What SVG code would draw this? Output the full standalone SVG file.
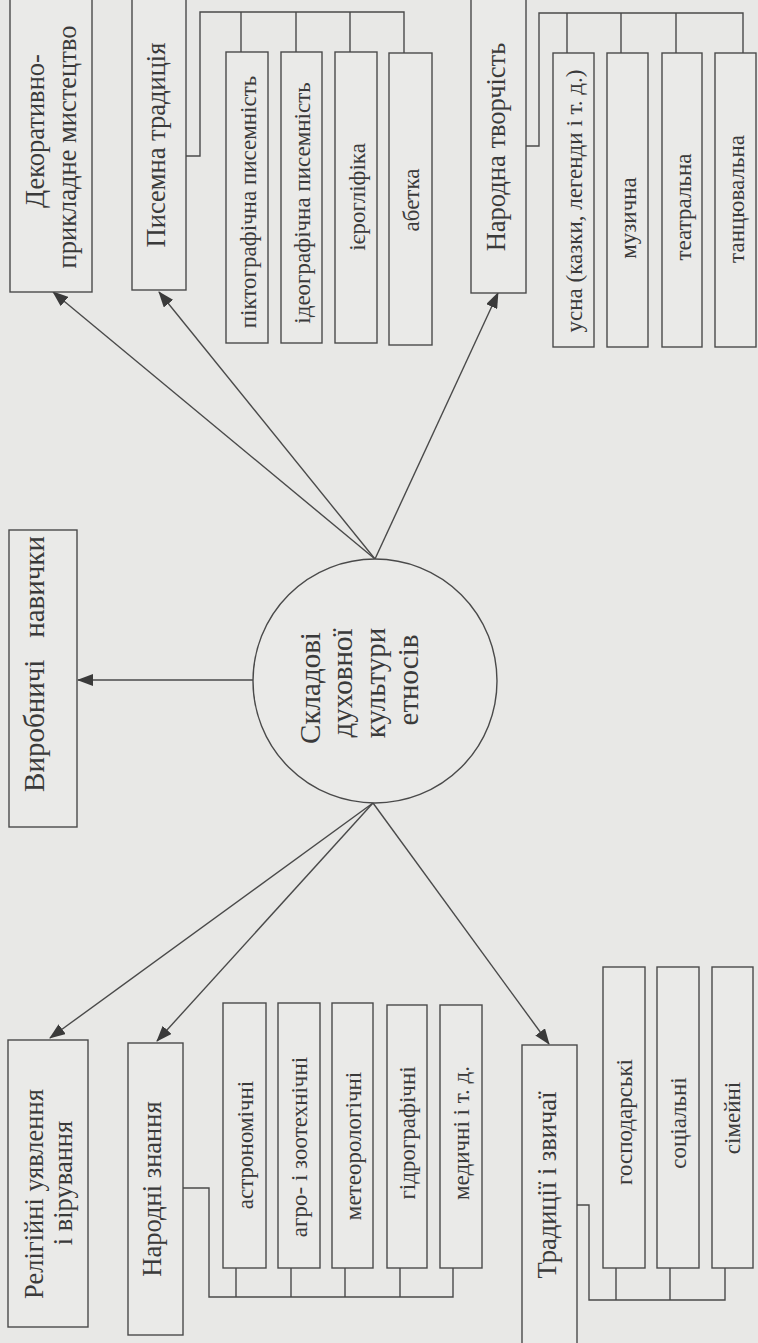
<svg xmlns="http://www.w3.org/2000/svg" width="758" height="1343" viewBox="0 0 758 1343">
<style>
.bx{fill:#eaeae8;stroke:#4a4a4a;stroke-width:1.4}
.ln{fill:none;stroke:#4a4a4a;stroke-width:1.4}
.ar{fill:none;stroke:#4a4a4a;stroke-width:1.4;marker-end:url(#ah)}
text{font-family:"Liberation Serif","Times New Roman",serif;fill:#3a3a3a;text-anchor:middle;dominant-baseline:central}
.m{font-size:26.5px}
.c{font-size:23px}
.k{font-size:29px}
</style>
<defs>
<marker id="ah" markerUnits="userSpaceOnUse" markerWidth="16" markerHeight="12" refX="15" refY="6" orient="auto">
<path d="M0,0 L16,6 L0,12 Z" fill="#3a3a3a"/>
</marker>
</defs>
<rect x="0" y="0" width="758" height="1343" fill="#e8e8e6"/>

<g id="connectors">
<line class="ar" x1="375" y1="559" x2="53" y2="292"/>
<line class="ar" x1="375" y1="559" x2="159" y2="292"/>
<line class="ar" x1="375" y1="559" x2="498" y2="293"/>
<line class="ar" x1="253" y1="680" x2="78" y2="680"/>
<line class="ar" x1="373" y1="803" x2="50" y2="1038"/>
<line class="ar" x1="373" y1="803" x2="157" y2="1041"/>
<line class="ar" x1="373" y1="803" x2="549" y2="1044"/>
<path class="ln" d="M186,156 H200 V12 H404 V53 M241,12 V52 M296,12 V52 M350,12 V52"/>
<path class="ln" d="M526,146 H539 V13 H743 V53 M567,13 V53 M621,13 V53 M676,13 V53"/>
<path class="ln" d="M183,1188 H209 V1297 H453 V1268 M236,1297 V1268 M291,1297 V1268 M345,1297 V1268 M400,1297 V1268"/>
<path class="ln" d="M577,1205 H589 V1300 H725 V1268 M616,1300 V1268 M670,1300 V1268"/>
</g>

<g id="center">
<circle cx="375" cy="681" r="122" fill="#eaeae8" stroke="#4a4a4a" stroke-width="1.4"/>
<text class="k" transform="translate(310,688) rotate(-90)">Складові</text>
<text class="k" transform="translate(342,683) rotate(-90)">духовної</text>
<text class="k" transform="translate(375,683) rotate(-90)">культури</text>
<text class="k" transform="translate(408,680) rotate(-90)">етносів</text>
</g>

<g id="dekor">
<rect class="bx" x="10" y="-2" width="82" height="294"/>
<text class="m" transform="translate(35,131) rotate(-90)">Декоративно-</text>
<text class="m" transform="translate(67,147) rotate(-90)">прикладне мистецтво</text>
</g>

<g id="pysemna">
<rect class="bx" x="132" y="-2" width="54" height="292"/>
<text class="m" transform="translate(156,145) rotate(-90)">Писемна традиція</text>
</g>
<g id="pykto"><rect class="bx" x="226" y="52" width="42" height="291"/><text class="c" transform="translate(248,202) rotate(-90)">піктографічна писемність</text></g>
<g id="ideo"><rect class="bx" x="281" y="52" width="41" height="291"/><text class="c" transform="translate(302,203) rotate(-90)">ідеографічна писемність</text></g>
<g id="iero"><rect class="bx" x="335" y="52" width="42" height="291"/><text class="c" transform="translate(357,197) rotate(-90)">ієрогліфіка</text></g>
<g id="abetka"><rect class="bx" x="389" y="53" width="43" height="292"/><text class="c" transform="translate(411,200) rotate(-90)">абетка</text></g>

<g id="narodna-tv">
<rect class="bx" x="471" y="-2" width="55" height="295"/>
<text class="m" transform="translate(496,147) rotate(-90)">Народна творчість</text>
</g>
<g id="usna"><rect class="bx" x="553" y="53" width="41" height="294"/><text class="c" transform="translate(574,201) rotate(-90)">усна (казки, легенди і т. д.)</text></g>
<g id="muz"><rect class="bx" x="607" y="53" width="41" height="294"/><text class="c" transform="translate(628,218) rotate(-90)">музична</text></g>
<g id="teatr"><rect class="bx" x="662" y="53" width="40" height="294"/><text class="c" transform="translate(683,207) rotate(-90)">театральна</text></g>
<g id="tanc"><rect class="bx" x="715" y="53" width="41" height="294"/><text class="c" transform="translate(736,199) rotate(-90)">танцювальна</text></g>

<g id="vyrob">
<rect class="bx" x="9" y="530" width="68" height="297"/>
<text class="m" style="font-size:29px" transform="translate(34,664) rotate(-90)" xml:space="preserve">Виробничі   навички</text>
</g>

<g id="relig">
<rect class="bx" x="8" y="1040" width="80" height="287"/>
<text class="m" transform="translate(34,1194) rotate(-90)">Релігійні уявлення</text>
<text class="m" transform="translate(63,1183) rotate(-90)">і вірування</text>
</g>

<g id="znannia">
<rect class="bx" x="128" y="1043" width="55" height="292"/>
<text class="m" transform="translate(152,1189) rotate(-90)">Народні знання</text>
</g>
<g id="astro"><rect class="bx" x="223" y="1003" width="43" height="265"/><text class="c" transform="translate(245,1145) rotate(-90)">астрономічні</text></g>
<g id="agro"><rect class="bx" x="278" y="1003" width="42" height="265"/><text class="c" transform="translate(299,1147) rotate(-90)">агро- і зоотехнічні</text></g>
<g id="meteo"><rect class="bx" x="332" y="1003" width="41" height="265"/><text class="c" transform="translate(353,1146) rotate(-90)">метеорологічні</text></g>
<g id="hidro"><rect class="bx" x="387" y="1005" width="40" height="263"/><text class="c" transform="translate(407,1133) rotate(-90)">гідрографічні</text></g>
<g id="med"><rect class="bx" x="440" y="1005" width="42" height="263"/><text class="c" transform="translate(461,1133) rotate(-90)">медичні і т. д.</text></g>

<g id="tradytsii">
<rect class="bx" x="522" y="1045" width="55" height="300"/>
<text class="m" transform="translate(547,1185) rotate(-90)">Традиції і звичаї</text>
</g>
<g id="hosp"><rect class="bx" x="603" y="967" width="42" height="301"/><text class="c" transform="translate(624,1122) rotate(-90)">господарські</text></g>
<g id="soc"><rect class="bx" x="657" y="967" width="42" height="301"/><text class="c" transform="translate(678,1123) rotate(-90)">соціальні</text></g>
<g id="sim"><rect class="bx" x="712" y="967" width="41" height="301"/><text class="c" transform="translate(732,1118) rotate(-90)">сімейні</text></g>
</svg>
